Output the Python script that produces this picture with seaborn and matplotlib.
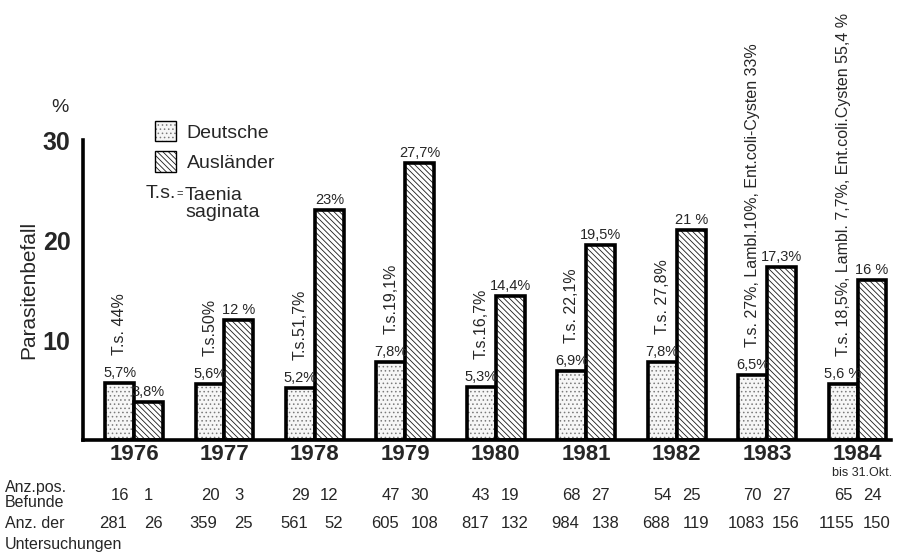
import pandas as pd
import numpy as np
import matplotlib
matplotlib.use('Agg')
import matplotlib.pyplot as plt
import matplotlib.colors as mcolors
import matplotlib.transforms as mtransforms
from matplotlib.patches import Patch
import seaborn as sns

years = ['1976', '1977', '1978', '1979', '1980', '1981', '1982', '1983', '1984']
deutsche = [5.7, 5.6, 5.2, 7.8, 5.3, 6.9, 7.8, 6.5, 5.6]
auslaender = [3.8, 12, 23, 27.7, 14.4, 19.5, 21, 17.3, 16]
deutsche_txt = ['5,7%', '5,6%', '5,2%', '7,8%', '5,3%', '6,9%', '7,8%', '6,5%', '5,6 %']
auslaender_txt = ['3,8%', '12 %', '23%', '27,7%', '14,4%', '19,5%', '21 %', '17,3%', '16 %']
ts_labels = ['T.s. 44%', 'T.s.50%', 'T.s.51,7%', 'T.s.19,1%', 'T.s.16,7%',
             'T.s. 22,1%', 'T.s. 27,8%',
             'T.s. 27%, Lambl.10%, Ent.coli-Cysten 33%',
             'T.s. 18,5%, Lambl. 7,7%, Ent.coli.Cysten 55,4 %']
pos_d = [16, 20, 29, 47, 43, 68, 54, 70, 65]
pos_a = [1, 3, 12, 30, 19, 27, 25, 27, 24]
unt_d = [281, 359, 561, 605, 817, 984, 688, 1083, 1155]
unt_a = [26, 25, 52, 108, 132, 138, 119, 156, 150]
groups = ['Deutsche', 'Ausländer']

df = pd.DataFrame({
    'Jahr': years * 2,
    'Gruppe': ['Deutsche'] * len(years) + ['Ausländer'] * len(years),
    'Wert': deutsche + auslaender,
})

sns.set_style('white')
plt.rcParams['font.family'] = ['Liberation Sans', 'DejaVu Sans']
plt.rcParams['hatch.linewidth'] = 0.6

fig = plt.figure(figsize=(9.02, 5.56), dpi=100)
ax = fig.add_axes([83 / 902, 1 - 440 / 556, 808 / 902, 300 / 556])

sns.barplot(data=df, x='Jahr', y='Wert', hue='Gruppe', hue_order=groups,
            palette=['white', 'white'], width=0.64, edgecolor='black',
            linewidth=2.6, legend=False, ax=ax)

hatches = {'Deutsche': '....', 'Ausländer': '\\' * 6}
faces = {'Deutsche': '#f6f6f6', 'Ausländer': 'white'}
hcolors = {'Deutsche': '#7a7a7a', 'Ausländer': '#1a1a1a'}
n = len(years)


def style_patch(p, g):
    p.set_hatch(hatches[g])
    p.set_facecolor(faces[g])
    # hatch colour follows the edge colour, override it afterwards
    p._hatch_color = mcolors.to_rgba(hcolors[g])


for k, g in enumerate(groups):
    for p in ax.patches[k * n:(k + 1) * n]:
        style_patch(p, g)

for i in range(n):
    xd = ax.patches[i].get_x() + ax.patches[i].get_width() / 2
    xa = ax.patches[n + i].get_x() + ax.patches[n + i].get_width() / 2
    ax.annotate(deutsche_txt[i], (xd, deutsche[i]), xytext=(0, 2),
                textcoords='offset points', ha='center', va='bottom',
                fontsize=10.5, clip_on=False)
    ax.annotate(auslaender_txt[i], (xa, auslaender[i]), xytext=(0, 2),
                textcoords='offset points', ha='center', va='bottom',
                fontsize=10.5, clip_on=False)
    ax.annotate(ts_labels[i], (xd, deutsche[i]), xytext=(0, 20),
                textcoords='offset points', ha='center', va='bottom',
                rotation=90, fontsize=11.5, clip_on=False)

ax.set_xlim(-0.564, 8.37)
ax.set_ylim(0, 30)
ax.set_yticks([10, 20, 30])
ax.set_yticklabels(['10', '20', '30'], fontsize=18, fontweight='bold')
ax.tick_params(axis='y', direction='out', length=7, width=2.2, pad=2)
ax.tick_params(axis='x', length=0, pad=3)
ax.set_xticks(range(n))
ax.set_xticklabels(years, fontsize=16, fontweight='bold')
ax.set_xlabel('')
ax.set_ylabel('Parasitenbefall', fontsize=15, labelpad=3)
for side in ['top', 'right']:
    ax.spines[side].set_visible(False)
for side in ['left', 'bottom']:
    ax.spines[side].set_linewidth(2.6)
    ax.spines[side].set_color('black')

fig.text(60 / 902, 1 - 108 / 556, '%', fontsize=14, ha='center', va='center')

handles = [Patch(facecolor=faces[g], edgecolor='black', hatch=hatches[g], linewidth=1.0)
           for g in groups]
leg = fig.legend(handles, groups, loc='upper left', bbox_to_anchor=(145 / 902, 1 - 111 / 556),
                 frameon=False, fontsize=14, handlelength=1.1, handleheight=1.25,
                 handletextpad=0.55, labelspacing=0.5, borderpad=0)
for h, g in zip(leg.legend_handles, groups):
    h._hatch_color = mcolors.to_rgba(hcolors[g])
fig.text(146 / 902, 1 - 194 / 556, 'T.s.', fontsize=14, va='center')
fig.text(176 / 902, 1 - 194 / 556, '=', fontsize=8, va='center')
fig.text(185 / 902, 1 - 204 / 556, 'Taenia\nsaginata', fontsize=14, va='center',
         linespacing=0.95)

ax.text(8.05, -0.09, 'bis 31.Okt.', transform=mtransforms.blended_transform_factory(ax.transData, ax.transAxes),
        fontsize=9, ha='center', va='top')

trans = mtransforms.blended_transform_factory(ax.transData, fig.transFigure)
y_pos = 1 - 495 / 556
y_unt = 1 - 524 / 556
fig.text(5 / 902, y_pos, 'Anz.pos.\nBefunde', fontsize=11.5, va='center', linespacing=1.0)
fig.text(5 / 902, y_unt, 'Anz. der', fontsize=11.5, va='center')
fig.text(5 / 902, 1 - 545 / 556, 'Untersuchungen', fontsize=11.5, va='center')
for i in range(n):
    xd = ax.patches[i].get_x() + ax.patches[i].get_width() / 2
    xa = ax.patches[n + i].get_x() + ax.patches[n + i].get_width() / 2
    ax.text(xd, y_pos, str(pos_d[i]), transform=trans, ha='center', va='center', fontsize=12)
    ax.text(xa, y_pos, str(pos_a[i]), transform=trans, ha='center', va='center', fontsize=12)
    ax.text(xd - 0.07, y_unt, str(unt_d[i]), transform=trans, ha='center', va='center', fontsize=12)
    ax.text(xa + 0.05, y_unt, str(unt_a[i]), transform=trans, ha='center', va='center', fontsize=12)

fig.savefig('out.png', dpi=100)
plt.close(fig)
